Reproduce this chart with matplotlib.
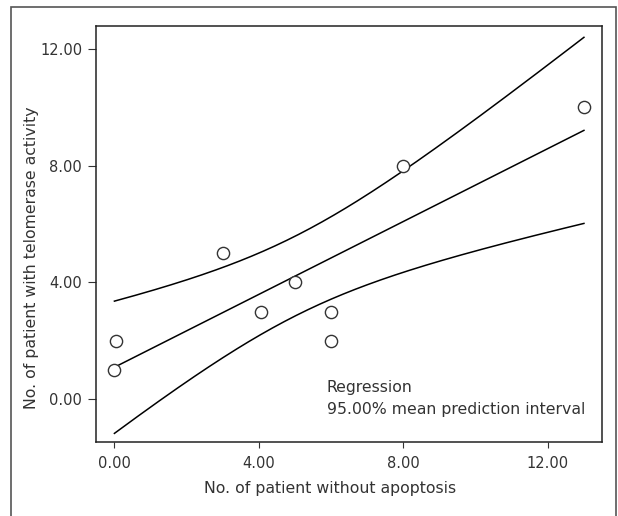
import numpy as np
import matplotlib
matplotlib.use("Agg")
import matplotlib.pyplot as plt
from matplotlib.patches import Rectangle

no_apoptosis = [0.0, 0.05, 3.0, 4.05, 5.0, 6.0, 6.0, 8.0, 13.0]
telomerase = [1.0, 2.0, 5.0, 3.0, 4.0, 3.0, 2.0, 8.0, 10.0]
x_ticks = [0, 4, 8, 12]
y_ticks = [0, 4, 8, 12]
t_crit = 2.365  # t(0.975, df=7)

plt.rcParams["font.family"] = ["DejaVu Sans"]
plt.rcParams["font.size"] = 10

x = np.array(no_apoptosis)
y = np.array(telomerase)

# least squares line and 95% band for the mean
slope, intercept = np.polyfit(x, y, 1)
resid = y - (intercept + slope * x)
s = np.sqrt(np.sum(resid ** 2) / (len(x) - 2))
sxx = np.sum((x - x.mean()) ** 2)
xs = np.linspace(x.min(), x.max(), 200)
fit = intercept + slope * xs
half = t_crit * s * np.sqrt(1 / len(x) + (xs - x.mean()) ** 2 / sxx)

fig = plt.figure(figsize=(6.18, 5.16), dpi=100)
ax = fig.add_axes([96 / 618, 74 / 516, 506 / 618, 416 / 516])

ax.plot(xs, fit, color="black", lw=1.1)
ax.plot(xs, fit + half, color="black", lw=1.1)
ax.plot(xs, fit - half, color="black", lw=1.1)
ax.plot(x, y, "o", ms=8.8, mfc="white", mec="#333333", mew=1.0, ls="none")

ax.set_xlim(-0.51, 13.5)
ax.set_ylim(-1.47, 12.79)
ax.set_xticks(x_ticks)
ax.set_xticklabels([f"{v:.2f}" for v in x_ticks])
ax.set_yticks(y_ticks)
ax.set_yticklabels([f"{v:.2f}" for v in y_ticks])
ax.tick_params(axis="y", direction="out", length=6, pad=4, colors="#333333", labelsize=10.5)
ax.tick_params(axis="x", direction="out", length=4, pad=6, colors="#333333", labelsize=10.5)
for sp in ax.spines.values():
    sp.set_color("#222222")
    sp.set_linewidth(1.1)

ax.text(0.4565, 0.13, "Regression", transform=ax.transAxes, ha="left", va="center",
        fontsize=11.3, color="#333333")
ax.text(0.4565, 0.077, "95.00% mean prediction interval", transform=ax.transAxes,
        ha="left", va="center", fontsize=11.3, color="#333333")

fig.text(32 / 618, 0.5, "No. of patient with telomerase activity", rotation=90,
         ha="center", va="center", fontsize=11.3, color="#333333")
fig.text(330 / 618, 28 / 516, "No. of patient without apoptosis", ha="center",
         va="center", fontsize=11.3, color="#333333")

# outer frame around the whole graphic
fig.patches.append(Rectangle((11 / 618, -0.02), 605 / 618, (509 / 516) + 0.02,
                             transform=fig.transFigure, fill=False,
                             edgecolor="#555555", lw=1.2))

fig.savefig("out.png", dpi=100)
